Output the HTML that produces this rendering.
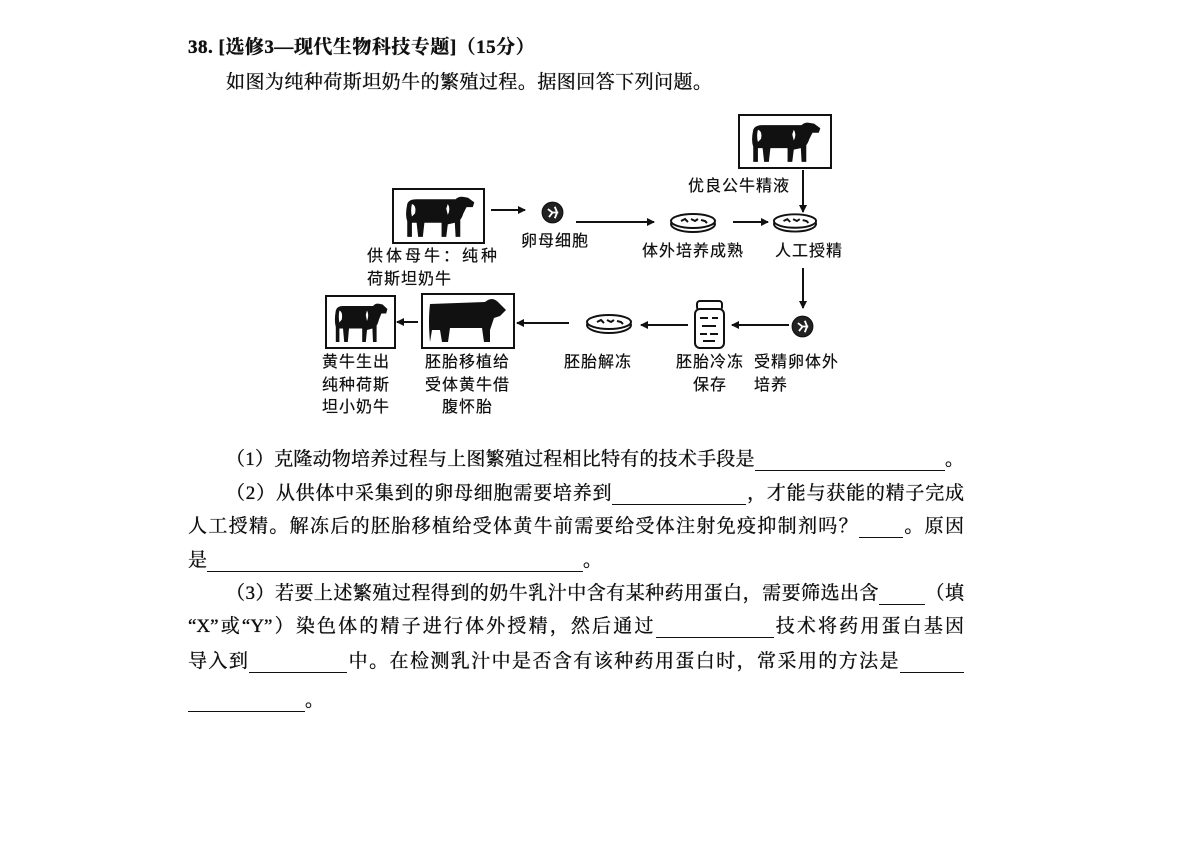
<!DOCTYPE html>
<html><head><meta charset="utf-8"><style>
body{margin:0;background:#fff;}
#p{position:relative;width:1200px;height:849px;overflow:hidden;background:#fff;color:#111;font-family:"Liberation Serif","Noto Serif CJK SC",serif;}
.t{position:absolute;white-space:nowrap;font-size:19px;line-height:22px;text-shadow:0 0 0.6px #000,0 0 0.3px #000;}
.j{position:absolute;font-size:19px;line-height:22px;text-align:justify;text-align-last:justify;white-space:nowrap;text-shadow:0 0 0.6px #000,0 0 0.3px #000;}
.b{display:inline-block;border-bottom:1.5px solid #111;height:18px;vertical-align:bottom;}
.l{position:absolute;font-family:"Liberation Sans","Noto Sans CJK SC",sans-serif;font-size:16px;line-height:22px;letter-spacing:1px;white-space:nowrap;text-shadow:0 0 0.4px #000;}
svg{position:absolute;left:0;top:0;}
</style></head><body><div id="p">
<svg width="1200" height="849" viewBox="0 0 1200 849">
<defs>
<marker id="a" markerWidth="8" markerHeight="8" refX="7" refY="4" orient="auto" markerUnits="userSpaceOnUse"><path d="M0,0 L8,4 L0,8 z" fill="#111"/></marker>
<symbol id="cow" viewBox="0 0 100 60" preserveAspectRatio="none">
<path d="M8,14 Q10,8 20,8 L70,8 Q74,4 80,5 L86,6 L94,12 L92,18 L84,18 L80,26 Q78,32 76,34 L76,56 L70,56 L69,38 L60,40 L58,56 L52,56 L52,38 L30,38 L28,56 L22,56 L20,38 L14,38 L14,56 L8,56 L8,36 Q5,28 8,14 z" fill="#111"/>
<path d="M14,14 Q20,16 18,26 L14,30 Q12,22 14,14 z M60,14 Q64,20 60,28 L58,20 z" fill="#fff"/>
</symbol>
<symbol id="dish" viewBox="0 0 48 22">
<ellipse cx="24" cy="13" rx="22" ry="8" fill="#fff" stroke="#111" stroke-width="2"/>
<ellipse cx="24" cy="10" rx="22" ry="7" fill="#fff" stroke="#111" stroke-width="2"/>
<path d="M12,10 l4,-2 l3,3 M22,8 l4,2 l3,-2 M32,9 l4,1 l2,2" stroke="#111" stroke-width="2" fill="none"/>
</symbol>
<symbol id="cell" viewBox="0 0 20 20">
<circle cx="10" cy="10" r="9" fill="#222" stroke="#111"/>
<path d="M6,7 l4,3 l-3,4 M12,5 l2,5 l-2,5 M9,10 h6" stroke="#fff" stroke-width="1.6" fill="none"/>
</symbol>
</defs>
<rect x="739" y="115" width="92" height="53" fill="none" stroke="#111" stroke-width="2"/>
<use href="#cow" x="747" y="119" width="78" height="46"/>
<rect x="393" y="189" width="91" height="54" fill="none" stroke="#111" stroke-width="2"/>
<use href="#cow" x="401" y="193" width="78" height="47"/>
<rect x="326" y="296" width="69" height="52" fill="none" stroke="#111" stroke-width="2"/>
<use href="#cow" x="331" y="300" width="60" height="45"/>
<rect x="422" y="294" width="92" height="54" fill="none" stroke="#111" stroke-width="2"/>
<path d="M430,304 L485,302 Q492,296 498,302 L506,310 L500,316 L494,318 L490,330 L490,342 L484,342 L482,328 L450,328 L448,342 L442,342 L440,330 L432,330 L430,342 Q428,320 430,304 z" fill="#111"/>
<use href="#cell" x="541" y="201" width="23" height="23"/>
<use href="#cell" x="791" y="315" width="23" height="23"/>
<use href="#dish" x="669" y="211" width="48" height="22"/>
<use href="#dish" x="772" y="211" width="46" height="22"/>
<use href="#dish" x="584" y="312" width="50" height="22"/>
<rect x="697" y="301" width="25" height="9" rx="3" fill="#fff" stroke="#111" stroke-width="2"/>
<rect x="695" y="309" width="29" height="39" rx="5" fill="#fff" stroke="#111" stroke-width="2"/>
<path d="M700,318 h8 M712,318 h6 M702,326 h14 M700,334 h7 M710,334 h8 M703,341 h12" stroke="#111" stroke-width="2"/>
<g stroke="#111" stroke-width="2" fill="none" marker-end="url(#a)">
<line x1="491" y1="210" x2="525" y2="210"/>
<line x1="576" y1="222" x2="654" y2="222"/>
<line x1="733" y1="222" x2="768" y2="222"/>
<line x1="803" y1="170" x2="803" y2="212"/>
<line x1="803" y1="268" x2="803" y2="308"/>
<line x1="789" y1="325" x2="732" y2="325"/>
<line x1="688" y1="325" x2="641" y2="325"/>
<line x1="569" y1="323" x2="517" y2="323"/>
<line x1="418" y1="322" x2="397" y2="322"/>
</g>
</svg>
<div class="l" style="left:521px;top:231px">卵母细胞</div>
<div class="l" style="left:642px;top:241px">体外培养成熟</div>
<div class="l" style="left:775px;top:241px">人工授精</div>
<div class="l" style="left:688px;top:176px">优良公牛精液</div>
<div class="l" style="left:367px;top:246px;letter-spacing:3px">供体母牛：纯种</div>
<div class="l" style="left:367px;top:269px">荷斯坦奶牛</div>
<div class="l" style="left:322px;top:352px">黄牛生出</div>
<div class="l" style="left:322px;top:375px">纯种荷斯</div>
<div class="l" style="left:322px;top:397px">坦小奶牛</div>
<div class="l" style="left:425px;top:352px">胚胎移植给</div>
<div class="l" style="left:425px;top:375px">受体黄牛借</div>
<div class="l" style="left:442px;top:397px">腹怀胎</div>
<div class="l" style="left:564px;top:352px">胚胎解冻</div>
<div class="l" style="left:676px;top:352px">胚胎冷冻</div>
<div class="l" style="left:693px;top:375px">保存</div>
<div class="l" style="left:754px;top:352px">受精卵体外</div>
<div class="l" style="left:754px;top:375px">培养</div>

<div class="t" style="left:188px;top:37px;font-weight:bold;letter-spacing:0.5px">38. [选修3—现代生物科技专题]（15分）</div>
<div class="j" style="left:226px;top:72px;width:486px">如图为纯种荷斯坦奶牛的繁殖过程。据图回答下列问题。</div>

<div class="j" style="left:226px;top:449px;width:738px">（1）克隆动物培养过程与上图繁殖过程相比特有的技术手段是<span class="b" style="width:190px"></span>。</div>
<div class="j" style="left:226px;top:483px;width:738px">（2）从供体中采集到的卵母细胞需要培养到<span class="b" style="width:134px"></span>，才能与获能的精子完成</div>
<div class="j" style="left:188px;top:516px;width:776px">人工授精。解冻后的胚胎移植给受体黄牛前需要给受体注射免疫抑制剂吗？<span class="b" style="width:44px"></span>。原因</div>
<div class="t" style="left:188px;top:550px">是<span class="b" style="width:376px"></span>。</div>
<div class="j" style="left:226px;top:583px;width:738px">（3）若要上述繁殖过程得到的奶牛乳汁中含有某种药用蛋白，需要筛选出含<span class="b" style="width:46px"></span>（填</div>
<div class="j" style="left:188px;top:616px;width:776px">“X”或“Y”）染色体的精子进行体外授精，然后通过<span class="b" style="width:118px"></span>技术将药用蛋白基因</div>
<div class="j" style="left:188px;top:651px;width:776px">导入到<span class="b" style="width:98px"></span>中。在检测乳汁中是否含有该种药用蛋白时，常采用的方法是<span class="b" style="width:64px"></span></div>
<div class="t" style="left:188px;top:690px"><span class="b" style="width:117px"></span>。</div>
</div></body></html>
